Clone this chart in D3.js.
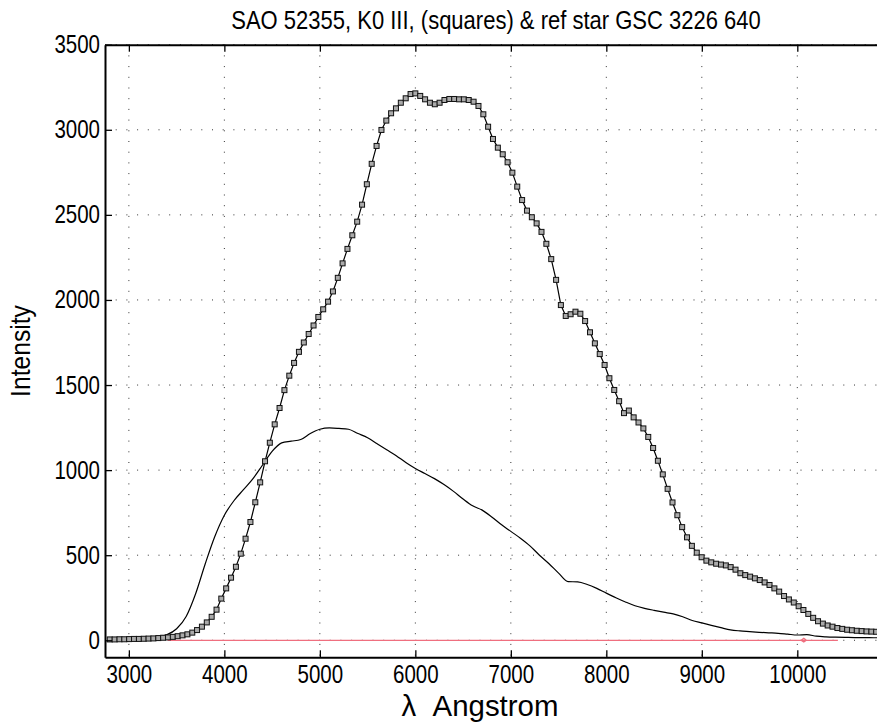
<!DOCTYPE html>
<meta charset="utf-8">
<style>
  body { margin: 0; background: #fff; }
  text { font-family: "Liberation Sans", Arial, sans-serif; fill: #000; }
  .grid line { stroke: #333; stroke-width: 1; stroke-dasharray: 1,9.7; }
  .axis path, .axis line { stroke: #000; }
  .axis path { stroke-width: 2; }
  .axis line { stroke-width: 1.3; }
  .curve { fill: none; stroke: #000; stroke-width: 1.2; }
  .marker { fill: #aaa; stroke: #111; stroke-width: 1; }
</style>
<body>
<script src="https://d3js.org/d3.v7.min.js"></script>
<script>

// SAO 52355 spectrum (squares)
var starLambda = [2800,2851,2902,2952,3003,3054,3105,3156,3206,3257,
  3308,3359,3410,3460,3511,3562,3613,3664,3714,3765,
  3816,3867,3918,3968,4019,4070,4121,4172,4222,4273,
  4324,4375,4426,4476,4527,4578,4629,4680,4730,4781,
  4832,4883,4934,4984,5035,5086,5137,5188,5238,5289,
  5340,5391,5442,5492,5543,5594,5645,5696,5746,5797,
  5848,5899,5950,6000,6051,6102,6153,6204,6254,6305,
  6356,6407,6458,6508,6559,6610,6661,6712,6762,6813,
  6864,6915,6966,7016,7067,7118,7169,7220,7270,7321,
  7372,7423,7474,7524,7575,7626,7677,7728,7778,7829,
  7880,7931,7982,8032,8083,8134,8185,8236,8286,8337,
  8388,8439,8490,8540,8591,8642,8693,8744,8794,8845,
  8896,8947,8998,9048,9099,9150,9201,9252,9302,9353,
  9404,9455,9506,9556,9607,9658,9709,9760,9810,9861,
  9912,9963,10014,10064,10115,10166,10217,10268,10318,10369,
  10420,10471,10522,10572,10623,10674,10725,10776,10826,10877];

var starIntensity = [5,5,6,6,7,8,8,9,10,11,
  13,15,17,20,24,29,35,45,60,80,
  105,138,180,245,305,368,432,509,597,695,
  811,928,1052,1161,1269,1365,1470,1555,1630,1695,
  1750,1800,1850,1900,1945,1990,2050,2130,2215,2300,
  2380,2460,2560,2680,2800,2905,2999,3054,3097,3126,
  3159,3185,3210,3214,3199,3179,3159,3150,3159,3175,
  3181,3181,3179,3179,3175,3165,3140,3091,3018,2946,
  2895,2856,2809,2748,2666,2587,2525,2486,2450,2400,
  2330,2240,2118,1970,1906,1916,1931,1919,1876,1810,
  1745,1682,1618,1540,1471,1405,1335,1350,1310,1280,
  1245,1195,1130,1055,975,890,810,735,665,605,
  555,515,488,468,458,450,445,440,430,415,
  394,383,374,364,354,340,325,305,286,260,
  240,222,200,178,155,132,112,98,87,80,
  72,67,62,59,56,54,52,51,50,49];

// reference star GSC 3226 640 (plain line)
var refLambda = [2800,2900,3000,3100,3200,3300,3400,3500,3600,3700,
  3800,3900,4000,4100,4200,4300,4400,4500,4600,4700,
  4800,4900,5000,5100,5200,5300,5400,5500,5600,5700,
  5800,5900,6000,6100,6200,6300,6400,6500,6600,6700,
  6800,6900,7000,7100,7200,7300,7400,7500,7600,7700,
  7800,7900,8000,8100,8200,8300,8400,8500,8600,8700,
  8800,8900,9000,9100,9200,9300,9400,9500,9600,9700,
  9800,9900,10000,10100,10200,10300,10400,10500,10600,10700,10800,10900];

var refIntensity = [8,8,9,10,13,20,33,68,140,275,
  450,610,735,820,885,950,1030,1110,1160,1170,
  1180,1215,1240,1248,1245,1240,1215,1190,1155,1120,
  1085,1045,1010,980,950,915,875,830,790,765,
  725,680,640,600,555,500,450,395,345,343,
  328,305,277,250,225,203,188,176,165,155,
  138,116,102,88,74,61,55,51,47,44,
  41,36,31,33,24,20,18,17,16,16,15,15];

// thin red trace along zero
var redLambda = [3405,10040,10068,10095,10068,10040,10095,10425];
var redIntensity = [0,0,12,0,-10,0,0,0];

var xTicks = [3000,4000,5000,6000,7000,8000,9000,10000];
var yTicks = [0,500,1000,1500,2000,2500,3000,3500];

var width = 877,
    height = 727,
    plotLeft = 105,
    plotRight = 892.8,
    plotTop = 44.7,
    plotBottom = 657.3;

var x = d3.scaleLinear().domain([2750, 11000]).range([plotLeft, plotRight]);
var y = d3.scaleLinear().domain([-100, 3500]).range([plotBottom, plotTop]);

// squeeze glyphs sideways, the reference uses a narrow face
function condense(sel, k) {
  sel.each(function() {
    var w = this.getComputedTextLength();
    d3.select(this)
        .attr("textLength", w * k)
        .attr("lengthAdjust", "spacingAndGlyphs");
  });
}

var svg = d3.select("body").append("svg")
    .attr("width", width)
    .attr("height", height)
    .style("display", "block");

svg.append("rect")
    .attr("width", width)
    .attr("height", height)
    .attr("fill", "#fff");

svg.append("defs").append("clipPath")
    .attr("id", "plot")
  .append("rect")
    .attr("x", plotLeft)
    .attr("y", plotTop)
    .attr("width", plotRight - plotLeft)
    .attr("height", plotBottom - plotTop);

// dotted grid
var grid = svg.append("g").attr("class", "grid");
grid.selectAll(".gx")
    .data(xTicks)
  .enter().append("line")
    .attr("x1", function(d) { return x(d); })
    .attr("x2", function(d) { return x(d); })
    .attr("y1", plotTop)
    .attr("y2", plotBottom);
grid.selectAll(".gy")
    .data(yTicks)
  .enter().append("line")
    .attr("x1", plotLeft)
    .attr("x2", plotRight)
    .attr("y1", function(d) { return y(d); })
    .attr("y2", function(d) { return y(d); });

var plot = svg.append("g").attr("clip-path", "url(#plot)");

var line = d3.line()
    .x(function(d) { return x(d[0]); })
    .y(function(d) { return y(d[1]); });

var red = d3.zip(redLambda, redIntensity);
plot.append("path")
    .datum(red)
    .attr("fill", "none")
    .attr("stroke", "#ef6f7f")
    .attr("stroke-width", 1.2)
    .attr("d", line);

var ref = d3.zip(refLambda, refIntensity);
plot.append("path")
    .datum(ref)
    .attr("class", "curve")
    .attr("d", line.curve(d3.curveMonotoneX));

var star = d3.zip(starLambda, starIntensity);
plot.append("path")
    .datum(star)
    .attr("class", "curve")
    .attr("d", line.curve(d3.curveLinear));

var ms = 5;
plot.selectAll(".marker")
    .data(star)
  .enter().append("rect")
    .attr("class", "marker")
    .attr("x", function(d) { return x(d[0]) - ms / 2; })
    .attr("y", function(d) { return y(d[1]) - ms / 2; })
    .attr("width", ms)
    .attr("height", ms);

// axes, ticks pointing inward
svg.append("g")
    .attr("class", "axis")
    .attr("transform", "translate(0," + plotBottom + ")")
    .call(d3.axisBottom(x).tickValues(xTicks).tickFormat(d3.format("d"))
      .tickSize(-7).tickSizeOuter(0).tickPadding(8));

svg.append("g")
    .attr("class", "axis")
    .attr("transform", "translate(0," + plotTop + ")")
    .call(d3.axisTop(x).tickValues(xTicks).tickSize(-7).tickSizeOuter(0).tickFormat(""));

svg.append("g")
    .attr("class", "axis")
    .attr("transform", "translate(" + plotLeft + ",0)")
    .call(d3.axisLeft(y).tickValues(yTicks).tickFormat(d3.format("d"))
      .tickSize(-7).tickSizeOuter(0).tickPadding(5));

svg.selectAll(".axis text")
    .style("font-size", "25px")
    .call(condense, 0.82);

// title and labels
svg.append("text")
    .attr("x", 496)
    .attr("y", 29)
    .attr("text-anchor", "middle")
    .style("font-size", "25px")
    .text("SAO 52355, K0 III, (squares) & ref star GSC 3226 640")
    .call(condense, 0.88);

svg.append("text")
    .attr("x", 480)
    .attr("y", 716)
    .attr("text-anchor", "middle")
    .style("font-size", "30px")
    .style("white-space", "pre")
    .text("λ  Angstrom")
    .call(condense, 0.98);

svg.append("text")
    .attr("transform", "translate(30,351)rotate(-90)")
    .attr("text-anchor", "middle")
    .style("font-size", "28px")
    .text("Intensity")
    .call(condense, 0.88);

</script>
</body>
